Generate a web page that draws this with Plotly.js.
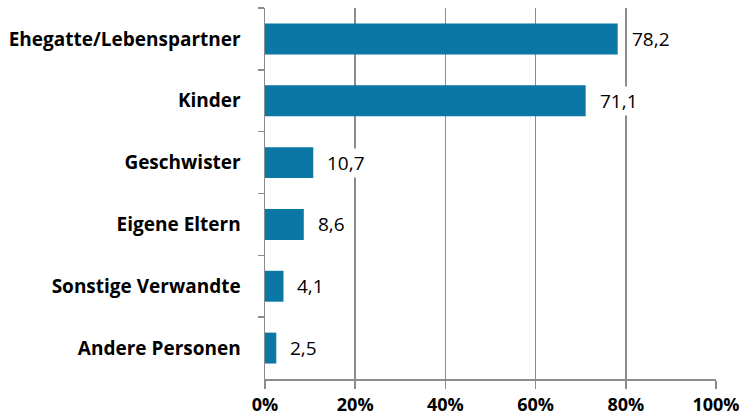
<!DOCTYPE html>
<html><head><meta charset="utf-8">
<script src="https://cdn.plot.ly/plotly-3.0.1.min.js"></script>
<style>body{margin:0;background:#fff}#c{width:744px;height:420px}</style>
</head><body><div id="c"></div>
<script>
const categories = ["Ehegatte/Lebenspartner","Kinder","Geschwister","Eigene Eltern","Sonstige Verwandte","Andere Personen"];
const values = [78.2, 71.1, 10.7, 8.6, 4.1, 2.5];
const tickVals = [0, 20, 40, 60, 80, 100];
const tickText = ["0%","20%","40%","60%","80%","100%"];
const valueLabels = values.map(v => v.toFixed(1).replace(".", ","));

const FONT = "Open Sans, sans-serif";
const trace = {
  type: "bar", orientation: "h",
  x: values, y: categories,
  marker: {color: "#0a77a4"},
  hoverinfo: "none"
};
const annotations = values.map((v, i) => ({
  x: v, y: categories[i], xref: "x", yref: "y",
  text: valueLabels[i], showarrow: false,
  xanchor: "left", xshift: 12, bgcolor: "#ffffff", borderpad: 1,
  font: {family: FONT, size: 19, color: "#000"}
}));
const layout = {
  width: 744, height: 420,
  margin: {l: 265, r: 28, t: 8, b: 41},
  paper_bgcolor: "#fff", plot_bgcolor: "#fff",
  bargap: 0.5, showlegend: false,
  font: {family: FONT, color: "#000"},
  xaxis: {
    range: [0, 100], tickvals: tickVals, ticktext: tickText,
    showgrid: true, gridcolor: "#8c8c8c", gridwidth: 1.5,
    showline: true, linecolor: "#8c8c8c", linewidth: 1.5,
    ticks: "outside", ticklen: 8, tickcolor: "#8c8c8c", tickwidth: 1.5,
    tickfont: {family: FONT, size: 18, weight: "bold", color: "#000"},
    ticklabelstandoff: 1,
    zeroline: false, fixedrange: true
  },
  yaxis: {
    type: "category", autorange: "reversed",
    showline: true, linecolor: "#8c8c8c", linewidth: 1.5,
    ticks: "outside", tickson: "boundaries", ticklen: 6, tickcolor: "#8c8c8c", tickwidth: 1.5,
    tickfont: {family: FONT, size: 19, weight: "bold", color: "#000"},
    ticklabelstandoff: 19,
    showgrid: false, zeroline: false, fixedrange: true
  },
  annotations: annotations
};
Plotly.newPlot("c", [trace], layout, {displayModeBar: false, staticPlot: true});
</script></body></html>
